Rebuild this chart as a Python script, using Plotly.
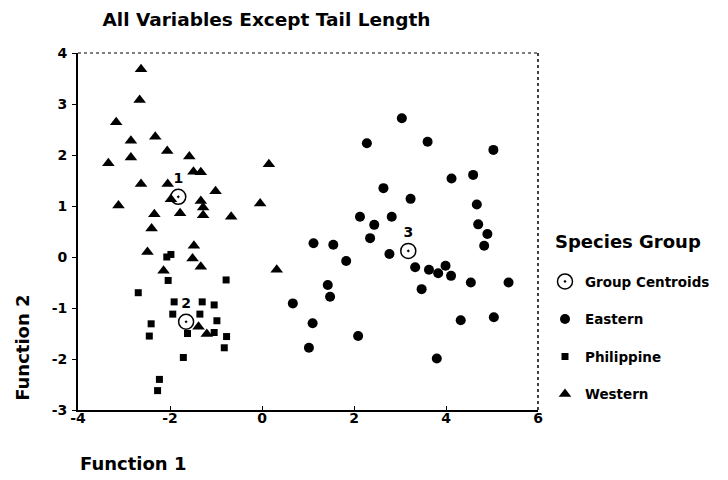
import plotly.graph_objects as go

# ---- data ----
eastern_x = [3.04, 2.28, 3.60, 5.03, 4.12, 4.59, 2.64, 3.23, 4.67, 2.13, 2.82, 2.44, 4.70, 4.90,
             4.83, 2.35, 1.12, 1.55, 1.83, 2.77, 3.33, 3.63, 3.83, 3.99, 4.11, 4.54, 5.36, 3.47,
             1.43, 1.48, 0.67, 1.10, 2.09, 1.02, 4.32, 5.04, 3.80]
eastern_y = [2.72, 2.23, 2.26, 2.10, 1.54, 1.61, 1.35, 1.14, 1.03, 0.79, 0.79, 0.63, 0.64, 0.45,
             0.22, 0.37, 0.27, 0.24, -0.08, 0.06, -0.20, -0.25, -0.32, -0.17, -0.37, -0.50, -0.50, -0.63,
             -0.55, -0.78, -0.91, -1.30, -1.55, -1.78, -1.24, -1.18, -1.99]

philippine_x = [-2.07, -1.98, -2.04, -0.78, -2.69, -1.91, -1.30, -1.04, -1.94, -1.35, -0.98, -2.41,
                -2.45, -1.04, -1.62, -0.77, -0.82, -1.71, -2.23, -2.27]
philippine_y = [0.00, 0.05, -0.46, -0.45, -0.70, -0.88, -0.88, -0.94, -1.12, -1.12, -1.25, -1.31,
                -1.55, -1.48, -1.50, -1.56, -1.78, -1.97, -2.40, -2.62]

western_x = [-2.63, -2.66, -3.17, -2.85, -2.32, -2.06, -3.34, -2.85, -1.58, -1.49, -1.33, 0.15,
             -2.63, -2.05, -1.98, -1.01, -3.12, -1.33, -1.28, -0.04, -1.78, -2.34, -1.28, -0.67,
             -2.40, -2.49, -1.48, -1.51, -1.33, -2.14, 0.32, -1.38, -1.20]
western_y = [3.68, 3.08, 2.64, 2.28, 2.36, 2.08, 1.84, 1.95, 1.97, 1.67, 1.66, 1.82,
             1.43, 1.43, 1.13, 1.29, 1.01, 1.10, 0.97, 1.05, 0.86, 0.84, 0.82, 0.79,
             0.56, 0.10, 0.22, -0.03, -0.19, -0.27, -0.25, -1.37, -1.51]

centroid_x = [-1.82, -1.65, 3.18]
centroid_y = [1.18, -1.27, 0.12]
centroid_labels = ["1", "2", "3"]

x_ticks = [-4, -2, 0, 2, 4, 6]
y_ticks = [-3, -2, -1, 0, 1, 2, 3, 4]

FONT = "DejaVu Sans"

fig = go.Figure()

fig.add_trace(go.Scatter(
    x=centroid_x, y=centroid_y, mode="markers+text", name="Group Centroids",
    text=centroid_labels, textposition="top center",
    textfont=dict(family=FONT, size=14, color="black", weight="bold"),
    marker=dict(symbol="circle-open-dot", size=15, color="black", line=dict(width=1.5, color="black")),
    legendgroup="c", cliponaxis=False,
))
fig.add_trace(go.Scatter(
    x=eastern_x, y=eastern_y, mode="markers", name="Eastern",
    marker=dict(symbol="circle", size=10, color="black"), legendgroup="e",
))
fig.add_trace(go.Scatter(
    x=philippine_x, y=philippine_y, mode="markers", name="Philippine",
    marker=dict(symbol="square", size=7, color="black"), legendgroup="p",
))
fig.add_trace(go.Scatter(
    x=western_x, y=western_y, mode="markers", name="Western",
    marker=dict(symbol="triangle-up", size=11, color="black"), legendgroup="w",
))

# the page adds an 8px body margin, so the figure is sized to fit inside the window
fig.update_layout(
    width=720, height=472,
    margin=dict(l=70, r=190, t=45, b=70),
    paper_bgcolor="white", plot_bgcolor="white",
    font=dict(family=FONT, color="black"),
    title=dict(text="All Variables Except Tail Length", x=0.359, xanchor="center",
               y=0.975, yanchor="middle",
               font=dict(family=FONT, size=18.5, color="black", weight="bold")),
    showlegend=True,
    legend=dict(
        x=1.0152, xanchor="left", y=0.403, yanchor="top",
        font=dict(family=FONT, size=13.5, color="black", weight="bold"),
        tracegroupgap=17, itemsizing="trace",
        bgcolor="rgba(0,0,0,0)",
    ),
    xaxis=dict(range=[-4, 6], tickvals=x_ticks, ticktext=[str(v) for v in x_ticks],
               showgrid=False, zeroline=False, showline=True, linecolor="black", linewidth=2,
               ticks="inside", ticklen=4, tickcolor="black", ticklabelstandoff=-6,
               tickfont=dict(family=FONT, size=14, color="black", weight="bold")),
    yaxis=dict(range=[-3, 4], tickvals=y_ticks, ticktext=[str(v) for v in y_ticks],
               showgrid=False, zeroline=False, showline=True, linecolor="black", linewidth=2,
               ticks="outside", ticklen=4, tickcolor="black", ticklabelstandoff=2,
               tickfont=dict(family=FONT, size=14, color="black", weight="bold")),
)

# dotted top and right frame
fig.add_shape(type="line", xref="x domain", yref="y domain", x0=0, x1=1, y0=1, y1=1,
              line=dict(color="black", width=1, dash="dot"))
fig.add_shape(type="line", xref="x domain", yref="y domain", x0=1, x1=1, y0=0, y1=1,
              line=dict(color="black", width=1.5, dash="dot"))

# legend heading and axis titles placed as in the reference
fig.add_annotation(text="Species Group", xref="paper", yref="paper", x=1.0326, y=0.4706,
                   xanchor="left", yanchor="middle", showarrow=False,
                   font=dict(family=FONT, size=18, color="black", weight="bold"))
fig.add_annotation(text="Function 1", xref="paper", yref="paper", x=0.0, y=-0.151,
                   xanchor="left", yanchor="middle", showarrow=False,
                   font=dict(family=FONT, size=18, color="black", weight="bold"))
fig.add_annotation(text="Function 2", xref="paper", yref="paper", x=-0.1196, y=0.174,
                   xanchor="center", yanchor="middle", showarrow=False, textangle=-90,
                   font=dict(family=FONT, size=18, color="black", weight="bold"))

fig.write_html("out.html")
